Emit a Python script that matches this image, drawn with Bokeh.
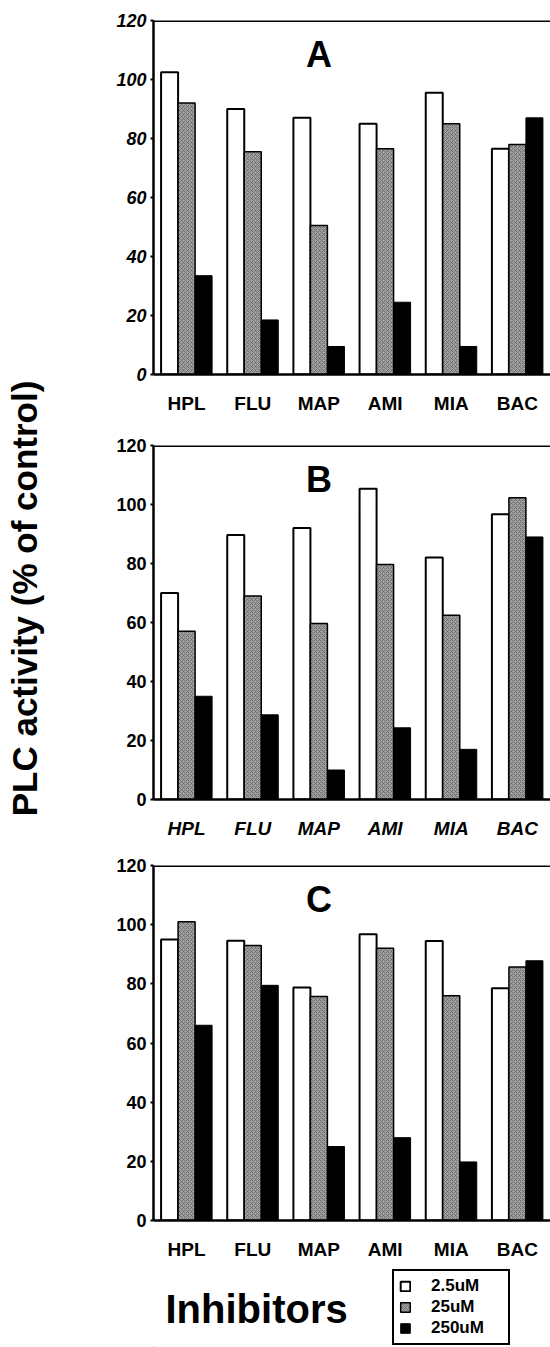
import math
from bokeh.plotting import figure
from bokeh.models import FactorRange, Range1d, Label, Legend, LegendItem, Span, FixedTicker
from bokeh.transform import dodge
from bokeh.layouts import column, row
from bokeh.core.properties import value
from bokeh.embed import file_html
from bokeh.resources import INLINE

# ---- data ----
inhibitors = ["HPL", "FLU", "MAP", "AMI", "MIA", "BAC"]
concentrations = ["2.5uM", "25uM", "250uM"]
y_ticks = [0, 20, 40, 60, 80, 100, 120]

a_2_5uM = [102.5, 90, 87, 85, 95.5, 76.5]
a_25uM = [92, 75.5, 50.5, 76.5, 85, 78]
a_250uM = [33.5, 18.5, 9.5, 24.5, 9.5, 87]

b_2_5uM = [70, 89.7, 92, 105.3, 82, 96.7]
b_25uM = [57, 69, 59.7, 79.7, 62.5, 102.3]
b_250uM = [35, 28.7, 10, 24.3, 17, 89]

c_2_5uM = [95, 94.6, 78.8, 96.8, 94.5, 78.5]
c_25uM = [101, 93, 75.7, 92, 76, 85.7]
c_250uM = [66, 79.5, 25, 28, 19.8, 87.8]

FONT = "Liberation Sans"
LEFT_W = 45
W = 505
BORDER_L = 108
BAR_W = 0.257
GRAY = "#a0a0a0"

WHITE_STYLE = dict(fill_color="white", line_color="black", line_width=2)
GRAY_STYLE = dict(fill_color=GRAY, line_color="black", line_width=1.5,
                  hatch_pattern="diagonal_cross", hatch_color="#555555", hatch_scale=4,
                  hatch_weight=1, hatch_alpha=0.6)
BLACK_STYLE = dict(fill_color="black", line_color="black", line_width=1)


def panel(letter, v1, v2, v3, height, top, bottom, ytick_style="bold", xtick_style="bold"):
    p = figure(width=W, height=height, x_range=FactorRange(factors=inhibitors, range_padding=0),
               y_range=Range1d(0, 120), output_backend="svg", toolbar_location=None,
               min_border_left=BORDER_L, min_border_right=0, min_border_top=top,
               min_border_bottom=bottom)
    p.outline_line_color = None
    p.grid.visible = False
    data = dict(x=inhibitors, v1=v1, v2=v2, v3=v3)
    p.vbar(x=dodge("x", -BAR_W, range=p.x_range), top="v1", width=BAR_W, source=data,
           **WHITE_STYLE)
    p.vbar(x=dodge("x", 0, range=p.x_range), top="v2", width=BAR_W, source=data,
           **GRAY_STYLE)
    p.vbar(x=dodge("x", BAR_W, range=p.x_range), top="v3", width=BAR_W, source=data,
           **BLACK_STYLE)
    p.add_layout(Span(location=120, dimension="width", line_color="black", line_width=3))
    p.text(x=["MAP"], y=[108.5], text=[letter], text_font=value(FONT), text_font_style="bold",
           text_font_size="36px", text_align="center", text_baseline="middle",
           text_color="black")

    ya = p.yaxis[0]
    ya.ticker = FixedTicker(ticks=y_ticks)
    ya.minor_tick_line_color = None
    ya.major_tick_in = 0
    ya.major_tick_out = 3
    ya.major_tick_line_width = 2
    ya.axis_line_width = 2.5
    ya.major_label_standoff = 4
    ya.major_label_text_font = FONT
    ya.major_label_text_font_style = ytick_style
    ya.major_label_text_font_size = "18px"
    ya.major_label_text_color = "black"

    xa = p.xaxis[0]
    xa.major_tick_line_color = None
    xa.minor_tick_line_color = None
    xa.axis_line_width = 2.5
    xa.major_label_standoff = 12
    xa.major_label_text_font = FONT
    xa.major_label_text_font_style = xtick_style
    xa.major_label_text_font_size = "19px"
    xa.major_label_text_color = "black"
    return p


pa = panel("A", a_2_5uM, a_25uM, a_250uM, 433, 20, 59, ytick_style="bold italic")
pb = panel("B", b_2_5uM, b_25uM, b_250uM, 420, 12, 54, xtick_style="bold italic")
pc = panel("C", c_2_5uM, c_25uM, c_250uM, 409, 12, 42)

# ---- bottom strip: x title and legend ----
pd = figure(width=W, height=85, x_range=Range1d(0, W - BORDER_L), y_range=Range1d(0, 85),
            x_axis_type=None, y_axis_type=None, output_backend="svg", toolbar_location=None,
            min_border=0, min_border_left=BORDER_L)
pd.outline_line_color = None
pd.grid.visible = False
pd.add_layout(Label(x=12, y=39, x_units="screen", y_units="screen", text="Inhibitors",
                    text_font=FONT, text_font_style="bold", text_font_size="40px",
                    text_align="left", text_baseline="middle", text_color="black"))
# legend swatches only (kept outside the visible x range)
legend_styles = [WHITE_STYLE, GRAY_STYLE, BLACK_STYLE]
legend_renderers = [pd.vbar(x=[-1000.0], top=[0.0], width=1, **s) for s in legend_styles]
legend = Legend(items=[LegendItem(label=concentrations[i], renderers=[legend_renderers[i]])
                       for i in range(3)],
                location=(239, 2), orientation="vertical")
legend.label_text_font = FONT
legend.label_text_font_style = "bold"
legend.label_text_font_size = "17px"
legend.label_text_color = "black"
legend.glyph_width = 12
legend.glyph_height = 12
legend.label_height = 19
legend.label_width = 72
legend.spacing = 1
legend.padding = 5
legend.margin = 0
legend.border_line_color = "black"
legend.border_line_alpha = 1.0
legend.border_line_width = 2
legend.label_standoff = 20
pd.add_layout(legend, "center")

# ---- left strip: y title ----
pl = figure(width=LEFT_W, height=1347, x_range=Range1d(0, LEFT_W), y_range=Range1d(0, 1347),
            x_axis_type=None, y_axis_type=None, output_backend="svg", toolbar_location=None,
            min_border=0)
pl.outline_line_color = None
pl.grid.visible = False
pl.add_layout(Label(x=24, y=749, x_units="screen", y_units="screen", angle=math.pi / 2,
                    text="PLC activity (% of control)", text_font=FONT, text_font_style="bold",
                    text_font_size="35px", text_align="center", text_baseline="middle",
                    text_color="black"))

layout = row(pl, column(pa, pb, pc, pd, spacing=0), spacing=0)
open("out.html", "w").write(file_html(layout, INLINE))
